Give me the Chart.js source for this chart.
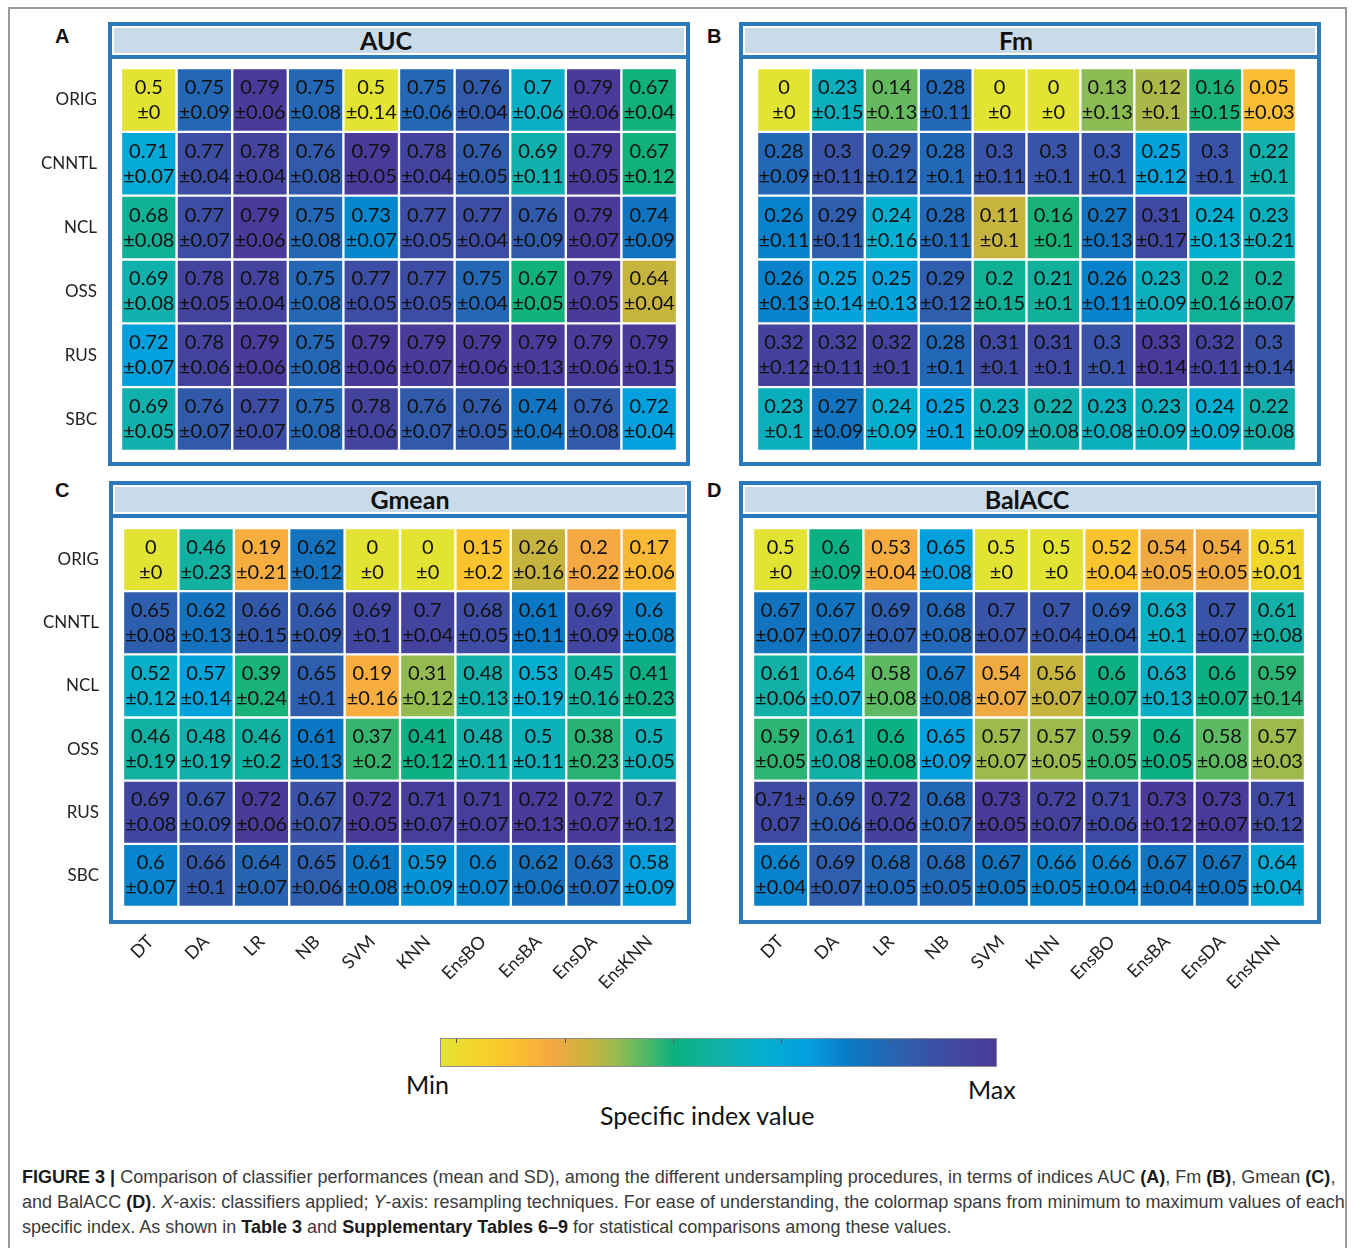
<!DOCTYPE html>
<html>
<head>
<meta charset="utf-8">
<script src="https://cdn.jsdelivr.net/npm/chart.js@4.4.1/dist/chart.umd.min.js"></script>
<style>
  body { margin: 0; width: 1357px; height: 1248px; position: relative; overflow: hidden; background: #fff; font-family: Lato, sans-serif; }
  .border { position: absolute; left: 8px; top: 7px; width: 1339px; height: 1270px; border: 2px solid #9a9a9a; box-sizing: border-box; }
  .letter { position: absolute; font: bold 20px "Liberation Sans", Arial, sans-serif; color: #111; }
  .frame { position: absolute; border: 4px solid #2b79b9; box-sizing: border-box; background: #fff; }
  .tbar { height: 29px; background: #c9dbe9; border-bottom: 4px solid #2b79b9; box-shadow: inset 0 0 0 2px #fff;
          font: bold 25px Lato, sans-serif; color: #111; text-align: center; line-height: 28px; }
  canvas { position: absolute; }
  #cbar { position: absolute; left: 440px; top: 1038px; width: 557px; height: 29px; border: 1px solid #8c8c8c; box-sizing: border-box; }
  .tick { position: absolute; top: 0; width: 1px; height: 4px; background: #555; }
  .cb { position: absolute; font: 25px Lato, sans-serif; color: #111; }
  .cap { position: absolute; left: 22px; font-family: "Liberation Sans", Arial, sans-serif; color: #3a3a3a; white-space: nowrap; }
  .cap b { color: #1a1a1a; }
</style>
</head>
<body>
<div class="border"></div>

<div class="letter" style="left:55px;top:25px">A</div>
<div class="letter" style="left:707px;top:25px">B</div>
<div class="letter" style="left:55px;top:479px">C</div>
<div class="letter" style="left:707px;top:479px">D</div>

<div class="frame" style="left:108px;top:22px;width:582px;height:444px"><div class="tbar" style="padding-right:26px">AUC</div></div>
<div class="frame" style="left:739px;top:22px;width:582px;height:444px"><div class="tbar" style="padding-right:28px">Fm</div></div>
<div class="frame" style="left:109px;top:481px;width:582px;height:443px"><div class="tbar" style="padding-left:20px">Gmean</div></div>
<div class="frame" style="left:739px;top:481px;width:582px;height:443px"><div class="tbar" style="padding-right:6px">BalACC</div></div>

<canvas id="auc" width="656" height="383" style="left:21px;top:68px"></canvas>
<canvas id="fm" width="539" height="383" style="left:757px;top:68px"></canvas>
<canvas id="gmean" width="654" height="469" style="left:23px;top:528px"></canvas>
<canvas id="balacc" width="552" height="469" style="left:753px;top:528px"></canvas>

<div id="cbar"></div>
<div class="cb" style="left:406px;top:1069px">Min</div>
<div class="cb" style="left:968px;top:1074px">Max</div>
<div class="cb" style="left:600px;top:1100px">Specific index value</div>

<div class="cap" id="cap1" style="top:1167px"><b>FIGURE 3 |</b> Comparison of classifier performances (mean and SD), among the different undersampling procedures, in terms of indices AUC <b>(A)</b>, Fm <b>(B)</b>, Gmean <b>(C)</b>,</div>
<div class="cap" id="cap2" style="top:1192px">and BalACC <b>(D)</b>. <i>X</i>-axis: classifiers applied; <i>Y</i>-axis: resampling techniques. For ease of understanding, the colormap spans from minimum to maximum values of each</div>
<div class="cap" id="cap3" style="top:1217px">specific index. As shown in <b>Table 3</b> and <b>Supplementary Tables 6–9</b> for statistical comparisons among these values.</div>

<script>
// Categories
const classifiers = ["DT", "DA", "LR", "NB", "SVM", "KNN", "EnsBO", "EnsBA", "EnsDA", "EnsKNN"];
const resampling = ["ORIG", "CNNTL", "NCL", "OSS", "RUS", "SBC"];

// AUC (mean / SD), one row per resampling technique
const aucMean = [
  [0.5, 0.75, 0.79, 0.75, 0.5, 0.75, 0.76, 0.7, 0.79, 0.67],
  [0.71, 0.77, 0.78, 0.76, 0.79, 0.78, 0.76, 0.69, 0.79, 0.67],
  [0.68, 0.77, 0.79, 0.75, 0.73, 0.77, 0.77, 0.76, 0.79, 0.74],
  [0.69, 0.78, 0.78, 0.75, 0.77, 0.77, 0.75, 0.67, 0.79, 0.64],
  [0.72, 0.78, 0.79, 0.75, 0.79, 0.79, 0.79, 0.79, 0.79, 0.79],
  [0.69, 0.76, 0.77, 0.75, 0.78, 0.76, 0.76, 0.74, 0.76, 0.72]
];
const aucSd = [
  [0, 0.09, 0.06, 0.08, 0.14, 0.06, 0.04, 0.06, 0.06, 0.04],
  [0.07, 0.04, 0.04, 0.08, 0.05, 0.04, 0.05, 0.11, 0.05, 0.12],
  [0.08, 0.07, 0.06, 0.08, 0.07, 0.05, 0.04, 0.09, 0.07, 0.09],
  [0.08, 0.05, 0.04, 0.08, 0.05, 0.05, 0.04, 0.05, 0.05, 0.04],
  [0.07, 0.06, 0.06, 0.08, 0.06, 0.07, 0.06, 0.13, 0.06, 0.15],
  [0.05, 0.07, 0.07, 0.08, 0.06, 0.07, 0.05, 0.04, 0.08, 0.04]
];

// Fm
const fmMean = [
  [0, 0.23, 0.14, 0.28, 0, 0, 0.13, 0.12, 0.16, 0.05],
  [0.28, 0.3, 0.29, 0.28, 0.3, 0.3, 0.3, 0.25, 0.3, 0.22],
  [0.26, 0.29, 0.24, 0.28, 0.11, 0.16, 0.27, 0.31, 0.24, 0.23],
  [0.26, 0.25, 0.25, 0.29, 0.2, 0.21, 0.26, 0.23, 0.2, 0.2],
  [0.32, 0.32, 0.32, 0.28, 0.31, 0.31, 0.3, 0.33, 0.32, 0.3],
  [0.23, 0.27, 0.24, 0.25, 0.23, 0.22, 0.23, 0.23, 0.24, 0.22]
];
const fmSd = [
  [0, 0.15, 0.13, 0.11, 0, 0, 0.13, 0.1, 0.15, 0.03],
  [0.09, 0.11, 0.12, 0.1, 0.11, 0.1, 0.1, 0.12, 0.1, 0.1],
  [0.11, 0.11, 0.16, 0.11, 0.1, 0.1, 0.13, 0.17, 0.13, 0.21],
  [0.13, 0.14, 0.13, 0.12, 0.15, 0.1, 0.11, 0.09, 0.16, 0.07],
  [0.12, 0.11, 0.1, 0.1, 0.1, 0.1, 0.1, 0.14, 0.11, 0.14],
  [0.1, 0.09, 0.09, 0.1, 0.09, 0.08, 0.08, 0.09, 0.09, 0.08]
];

// Gmean
const gmeanMean = [
  [0, 0.46, 0.19, 0.62, 0, 0, 0.15, 0.26, 0.2, 0.17],
  [0.65, 0.62, 0.66, 0.66, 0.69, 0.7, 0.68, 0.61, 0.69, 0.6],
  [0.52, 0.57, 0.39, 0.65, 0.19, 0.31, 0.48, 0.53, 0.45, 0.41],
  [0.46, 0.48, 0.46, 0.61, 0.37, 0.41, 0.48, 0.5, 0.38, 0.5],
  [0.69, 0.67, 0.72, 0.67, 0.72, 0.71, 0.71, 0.72, 0.72, 0.7],
  [0.6, 0.66, 0.64, 0.65, 0.61, 0.59, 0.6, 0.62, 0.63, 0.58]
];
const gmeanSd = [
  [0, 0.23, 0.21, 0.12, 0, 0, 0.2, 0.16, 0.22, 0.06],
  [0.08, 0.13, 0.15, 0.09, 0.1, 0.04, 0.05, 0.11, 0.09, 0.08],
  [0.12, 0.14, 0.24, 0.1, 0.16, 0.12, 0.13, 0.19, 0.16, 0.23],
  [0.19, 0.19, 0.2, 0.13, 0.2, 0.12, 0.11, 0.11, 0.23, 0.05],
  [0.08, 0.09, 0.06, 0.07, 0.05, 0.07, 0.07, 0.13, 0.07, 0.12],
  [0.07, 0.1, 0.07, 0.06, 0.08, 0.09, 0.07, 0.06, 0.07, 0.09]
];

// BalACC
const balaccMean = [
  [0.5, 0.6, 0.53, 0.65, 0.5, 0.5, 0.52, 0.54, 0.54, 0.51],
  [0.67, 0.67, 0.69, 0.68, 0.7, 0.7, 0.69, 0.63, 0.7, 0.61],
  [0.61, 0.64, 0.58, 0.67, 0.54, 0.56, 0.6, 0.63, 0.6, 0.59],
  [0.59, 0.61, 0.6, 0.65, 0.57, 0.57, 0.59, 0.6, 0.58, 0.57],
  [0.71, 0.69, 0.72, 0.68, 0.73, 0.72, 0.71, 0.73, 0.73, 0.71],
  [0.66, 0.69, 0.68, 0.68, 0.67, 0.66, 0.66, 0.67, 0.67, 0.64]
];
const balaccSd = [
  [0, 0.09, 0.04, 0.08, 0, 0, 0.04, 0.05, 0.05, 0.01],
  [0.07, 0.07, 0.07, 0.08, 0.07, 0.04, 0.04, 0.1, 0.07, 0.08],
  [0.06, 0.07, 0.08, 0.08, 0.07, 0.07, 0.07, 0.13, 0.07, 0.14],
  [0.05, 0.08, 0.08, 0.09, 0.07, 0.05, 0.05, 0.05, 0.08, 0.03],
  [0.07, 0.06, 0.06, 0.07, 0.05, 0.07, 0.06, 0.12, 0.07, 0.12],
  [0.04, 0.07, 0.05, 0.05, 0.05, 0.05, 0.04, 0.04, 0.05, 0.04]
];

// reversed parula-like colormap (min = yellow, max = purple)
const cmap = [
  [0, "#e3e333"], [0.07, "#f5d22c"], [0.13, "#fcc12f"], [0.2, "#f6a842"], [0.27, "#c6b43f"],
  [0.32, "#93bb4f"], [0.37, "#4fb867"], [0.42, "#0bb07e"], [0.5, "#12b0a6"], [0.58, "#05afcf"],
  [0.66, "#03a0de"], [0.74, "#0a78c4"], [0.82, "#2a63b1"], [0.91, "#3f4ba2"], [1, "#4a3a9a"]
];

// value -> colormap position, per index (each index spans its own min..max)
const aucScale = [[0.5, 0], [0.64, 0.27], [0.79, 1]];
const fmScale = [[0, 0], [0.05, 0.14], [0.11, 0.27], [0.16, 0.41], [0.21, 0.48], [0.24, 0.58], [0.26, 0.72], [0.33, 1]];
const gmeanScale = [[0, 0], [0.15, 0.12], [0.2, 0.2], [0.26, 0.27], [0.31, 0.32], [0.39, 0.41], [0.48, 0.51],
                    [0.53, 0.58], [0.58, 0.66], [0.61, 0.74], [0.66, 0.86], [0.72, 1]];
const balaccScale = [[0.5, 0], [0.51, 0.05], [0.52, 0.12], [0.53, 0.19], [0.54, 0.21], [0.56, 0.27], [0.57, 0.31],
                     [0.58, 0.36], [0.6, 0.43], [0.61, 0.5], [0.63, 0.56], [0.65, 0.66], [0.66, 0.72],
                     [0.68, 0.8], [0.7, 0.88], [0.73, 1]];

function hexRgb(h) {
  return [parseInt(h.slice(1, 3), 16), parseInt(h.slice(3, 5), 16), parseInt(h.slice(5, 7), 16)];
}

function interp(pairs, x) {
  if (x <= pairs[0][0]) return 0;
  for (let k = 1; k < pairs.length; k++) {
    if (x <= pairs[k][0]) {
      const [x0, y0] = pairs[k - 1], [x1, y1] = pairs[k];
      return y0 + (y1 - y0) * (x - x0) / (x1 - x0);
    }
  }
  return pairs[pairs.length - 1][1];
}

function colorAt(t) {
  for (let k = 1; k < cmap.length; k++) {
    if (t <= cmap[k][0]) {
      const f = (t - cmap[k - 1][0]) / (cmap[k][0] - cmap[k - 1][0]);
      const a = hexRgb(cmap[k - 1][1]), b = hexRgb(cmap[k][1]);
      return "rgb(" + a.map((c, i) => Math.round(c + (b[i] - c) * f)).join(",") + ")";
    }
  }
  return cmap[cmap.length - 1][1];
}

// the two-line "mean / ±sd" text in each cell
function cellText(mean, sd, oddWrap) {
  return {
    id: "cellText",
    afterDatasetsDraw(chart) {
      const ctx = chart.ctx;
      ctx.save();
      ctx.font = "20px Lato";
      ctx.fillStyle = "#111";
      ctx.textAlign = "center";
      ctx.textBaseline = "middle";
      chart.data.datasets.forEach((ds, i) => {
        chart.getDatasetMeta(i).data.forEach((bar, j) => {
          const yc = (bar.y + bar.base) / 2;
          let top = String(mean[i][j]), bottom = "±" + sd[i][j];
          if (oddWrap && oddWrap[0] === i && oddWrap[1] === j) {
            top = top + "±";
            bottom = String(sd[i][j]);
          }
          ctx.fillText(top, bar.x, yc - 12.5);
          ctx.fillText(bottom, bar.x, yc + 12.5);
        });
      });
      ctx.restore();
    }
  };
}

function heatmap(id, mean, sd, scale, showX, showY, oddWrap) {
  new Chart(document.getElementById(id), {
    type: "bar",
    data: {
      labels: classifiers,
      datasets: resampling.map((r, i) => ({
        label: r,
        data: classifiers.map(() => 1),
        backgroundColor: mean[i].map(v => colorAt(interp(scale, v))),
        borderColor: "#fff",
        borderWidth: 1.5,
        borderSkipped: false,
        categoryPercentage: 1,
        barPercentage: 1
      }))
    },
    options: {
      responsive: false,
      animation: false,
      events: [],
      layout: { padding: 0 },
      plugins: { legend: { display: false }, tooltip: { enabled: false } },
      scales: {
        x: {
          stacked: true,
          display: showX,
          grid: { display: false, drawTicks: false },
          border: { display: false },
          ticks: { autoSkip: false, maxRotation: 45, minRotation: 45, padding: 24, color: "#222", font: { family: "Lato", size: 18 } },
          afterFit: a => {
            a.paddingLeft = 0; a.paddingRight = 0;
            if (showX) a.height = 90;
          }
        },
        y: {
          stacked: true,
          min: 0,
          max: 6,
          reverse: true,
          display: showY,
          grid: { display: false, drawTicks: false },
          border: { display: false },
          afterBuildTicks: a => { a.ticks = resampling.map((r, i) => ({ value: i + 0.5 })); },
          ticks: { autoSkip: false, padding: 24, color: "#222", font: { family: "Lato", size: 17 }, callback: v => resampling[Math.floor(v)] },
          afterFit: a => {
            a.paddingTop = 0; a.paddingBottom = 0;
            if (showY) a.width = 100;
          }
        }
      }
    },
    plugins: [cellText(mean, sd, oddWrap)]
  });
}

heatmap("auc", aucMean, aucSd, aucScale, false, true);
heatmap("fm", fmMean, fmSd, fmScale, false, false);
heatmap("gmean", gmeanMean, gmeanSd, gmeanScale, true, true);
heatmap("balacc", balaccMean, balaccSd, balaccScale, true, false, [4, 0]);

// colour bar
const cbar = document.getElementById("cbar");
cbar.style.background = "linear-gradient(to right, " + cmap.map(([p, c]) => c + " " + (p * 100) + "%").join(", ") + ")";
[15, 124, 232, 340, 449].forEach(x => {
  const t = document.createElement("div");
  t.className = "tick";
  t.style.left = x + "px";
  cbar.appendChild(t);
});

// caption: size the font so the first line spans the same width as the figure text
const caps = ["cap1", "cap2", "cap3"].map(id => document.getElementById(id));
caps.forEach(c => c.style.fontSize = "16px");
const fit = 16 * 1313 / caps[0].offsetWidth;
caps.forEach(c => c.style.fontSize = fit.toFixed(2) + "px");
</script>
</body>
</html>
